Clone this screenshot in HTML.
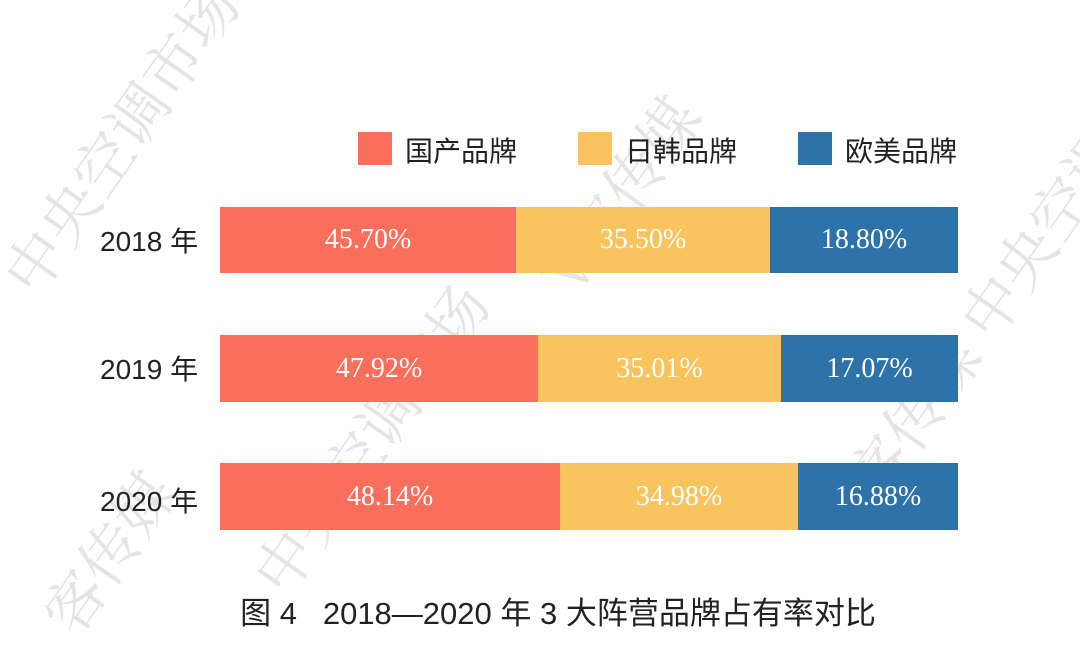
<!DOCTYPE html>
<html><head><meta charset="utf-8"><style>
body{margin:0;width:1080px;height:649px;background:#fff;position:relative;overflow:hidden;font-family:"Liberation Sans","Noto Sans CJK SC",sans-serif}
.a{position:absolute}
.seg{position:absolute;color:#fff;font-family:"Liberation Serif","Noto Serif CJK SC",serif;font-size:28px;display:flex;align-items:center;justify-content:center}
.r{background:#f96f5c}.y{background:#f9c35e}.b{background:#2d72a8}
.yr{position:absolute;left:100px;font-size:28px;color:#222}
.lg{position:absolute;font-size:28px;color:#222;top:130px}
.sq{position:absolute;top:132px;width:34px;height:33px}
.wm{position:absolute;color:#000;opacity:.1;font-size:60px;font-family:"Noto Serif CJK SC",serif;transform:rotate(-55deg);white-space:nowrap;transform-origin:left top}
</style></head><body>
<div class="wm" style="left:-20px;top:260px">中央空调市场</div>
<div class="wm" style="left:230px;top:560px">中央空调市场</div>
<div class="wm" style="left:520px;top:260px">V客传媒</div>
<div class="wm" style="left:800px;top:500px">V客传媒 中央空调</div>
<div class="wm" style="left:20px;top:600px">客传媒</div>

<div class="sq r" style="left:358px"></div><div class="lg" style="left:405px">国产品牌</div>
<div class="sq y" style="left:578px"></div><div class="lg" style="left:625px">日韩品牌</div>
<div class="sq b" style="left:798px"></div><div class="lg" style="left:845px">欧美品牌</div>

<div class="yr" style="top:220px">2018 年</div>
<div class="yr" style="top:348px">2019 年</div>
<div class="yr" style="top:480px">2020 年</div>

<div class="seg r" style="left:220px;width:296px;top:207px;height:66px">45.70%</div>
<div class="seg y" style="left:516px;width:254px;top:207px;height:66px">35.50%</div>
<div class="seg b" style="left:770px;width:188px;top:207px;height:66px">18.80%</div>

<div class="seg r" style="left:220px;width:318px;top:335px;height:67px">47.92%</div>
<div class="seg y" style="left:538px;width:243px;top:335px;height:67px">35.01%</div>
<div class="seg b" style="left:781px;width:177px;top:335px;height:67px">17.07%</div>

<div class="seg r" style="left:220px;width:340px;top:463px;height:67px">48.14%</div>
<div class="seg y" style="left:560px;width:238px;top:463px;height:67px">34.98%</div>
<div class="seg b" style="left:798px;width:160px;top:463px;height:67px">16.88%</div>

<div class="a" style="left:0;width:1116px;text-align:center;top:588px;font-size:31px;color:#222">图 4&nbsp;&nbsp;&nbsp;2018—2020 年 3 大阵营品牌占有率对比</div>
</body></html>
